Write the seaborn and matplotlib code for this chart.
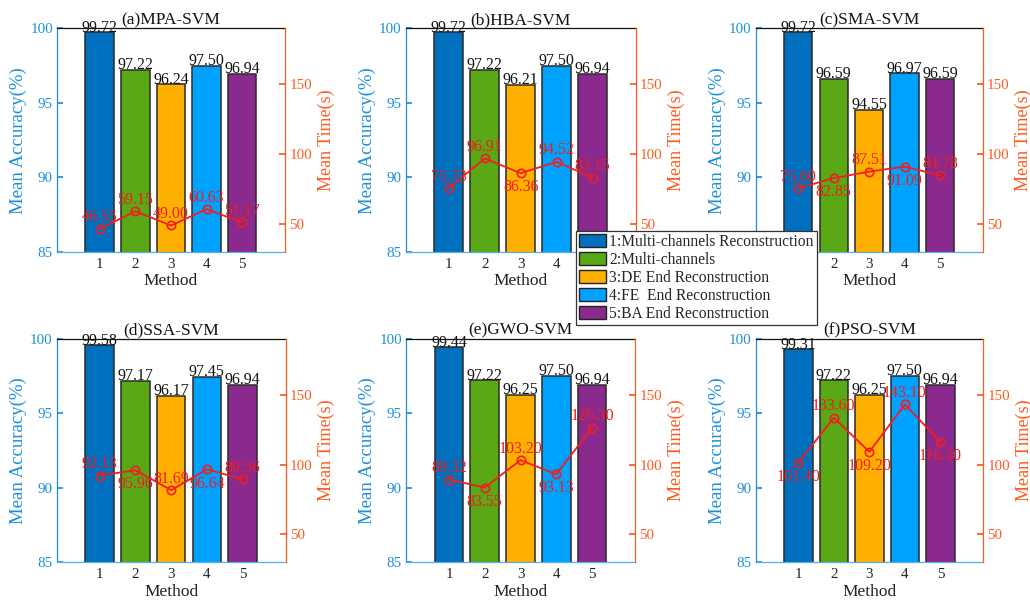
import matplotlib
matplotlib.use("Agg")
import matplotlib.pyplot as plt
from matplotlib.patches import Patch
import seaborn as sns

# ---- data -------------------------------------------------------------
methods = [1, 2, 3, 4, 5]
method_names = [
    "1:Multi-channels Reconstruction",
    "2:Multi-channels",
    "3:DE End Reconstruction",
    "4:FE  End Reconstruction",
    "5:BA End Reconstruction",
]
panel_titles = ["(a)MPA-SVM", "(b)HBA-SVM", "(c)SMA-SVM",
                "(d)SSA-SVM", "(e)GWO-SVM", "(f)PSO-SVM"]

acc_mpa = [99.72, 97.22, 96.24, 97.50, 96.94]
acc_hba = [99.72, 97.22, 96.21, 97.50, 96.94]
acc_sma = [99.72, 96.59, 94.55, 96.97, 96.59]
acc_ssa = [99.58, 97.17, 96.17, 97.45, 96.94]
acc_gwo = [99.44, 97.22, 96.25, 97.50, 96.94]
acc_pso = [99.31, 97.22, 96.25, 97.50, 96.94]

time_mpa = [46.55, 59.15, 49.00, 60.63, 51.17]
time_hba = [75.73, 96.91, 86.36, 94.52, 83.15]
time_sma = [75.60, 82.85, 87.51, 91.09, 84.78]
time_ssa = [92.13, 95.96, 81.69, 96.64, 89.56]
time_gwo = [89.32, 83.55, 103.20, 93.13, 126.30]
time_pso = [101.40, 133.60, 109.20, 143.10, 116.30]

accuracies = [acc_mpa, acc_hba, acc_sma, acc_ssa, acc_gwo, acc_pso]
times = [time_mpa, time_hba, time_sma, time_ssa, time_gwo, time_pso]

# ---- styling ------------------------------------------------------------
bar_colors = ["#0070BE", "#5AA816", "#FFB000", "#00A2FF", "#8B2A8E"]
acc_color = "#1B8FD8"
time_color = "#FF5A1E"
line_color = "#F41C1C"

# +1: time label above the marker, -1: below
label_side = [
    [1, 1, 1, 1, 1],
    [1, 1, -1, 1, 1],
    [1, -1, 1, -1, 1],
    [1, -1, 1, -1, 1],
    [1, -1, 1, -1, 1],
    [-1, 1, -1, 1, -1],
]

axes_rects = [
    [0.0553, 0.5848, 0.2214, 0.3686],
    [0.3939, 0.5848, 0.2233, 0.3686],
    [0.7337, 0.5848, 0.2204, 0.3686],
    [0.0550, 0.0736, 0.2223, 0.3680],
    [0.3942, 0.0736, 0.2223, 0.3680],
    [0.7337, 0.0736, 0.2207, 0.3680],
]

sns.set_theme(style="white")
plt.rcParams["font.family"] = ["Liberation Serif", "DejaVu Serif"]

fig = plt.figure(figsize=(10.30, 6.07), dpi=100)
palette = dict(zip(method_names, bar_colors))

for i in range(6):
    ax = fig.add_axes(axes_rects[i])
    acc = accuracies[i]
    tm = times[i]

    sns.barplot(x=methods, y=acc, hue=method_names, palette=palette,
                native_scale=True, width=0.8, saturation=1,
                edgecolor="#2A2A2A", linewidth=1.1, legend=False, ax=ax,
                zorder=2)
    ax.set_xlim(-0.2, 6.2)
    ax.set_ylim(85, 100)
    ax.set_xticks(methods)
    ax.set_xticklabels([str(m) for m in methods])
    ax.set_yticks([85, 90, 95, 100])
    ax.set_xlabel("Method", fontsize=12.5, labelpad=2, color="#222222")
    ax.set_ylabel("Mean Accuracy(%)", fontsize=13.5, color=acc_color, labelpad=2)
    ax.set_title(panel_titles[i], fontsize=12.5, pad=3, color="#111111")
    ax.tick_params(axis="y", colors=acc_color, direction="in", length=4,
                   labelsize=10.8, pad=3)
    ax.tick_params(axis="x", colors="#222222", direction="in", length=4,
                   labelsize=10.8, pad=4)
    ax.grid(False)

    for x, v in zip(methods, acc):
        ax.annotate(f"{v:.2f}", (x, v), xytext=(0, 0.5),
                    textcoords="offset points", ha="center", va="baseline",
                    fontsize=11.5, color="#111111")

    ax2 = ax.twinx()
    sns.lineplot(x=methods, y=tm, ax=ax2, color=line_color, linewidth=1.3,
                 marker="o", markersize=6, markerfacecolor="none",
                 markeredgecolor=line_color, markeredgewidth=1.2)
    ax2.set_ylim(30, 190)
    ax2.set_yticks([50, 100, 150])
    ax2.set_ylabel("Mean Time(s)", fontsize=13, color=time_color, labelpad=4)
    ax2.tick_params(axis="y", colors=time_color, direction="in", length=4,
                    labelsize=10.8, pad=3)
    ax2.grid(False)

    for x, v, s in zip(methods, tm, label_side[i]):
        if s > 0:
            ax2.annotate(f"{v:.2f}", (x, v), xytext=(0, 2.5),
                         textcoords="offset points", ha="center", va="bottom",
                         fontsize=11.5, color=line_color)
        else:
            ax2.annotate(f"{v:.2f}", (x, v), xytext=(0, -4.5),
                         textcoords="offset points", ha="center", va="top",
                         fontsize=11.5, color=line_color)

    # spines: blue left/bottom, orange right, black top
    for a in (ax, ax2):
        for sp in a.spines.values():
            sp.set_linewidth(0.9)
    ax.spines["left"].set_color(acc_color)
    ax.spines["bottom"].set_color("#5AAEE0")
    ax.spines["top"].set_color("#111111")
    ax.spines["right"].set_visible(False)
    ax2.spines["left"].set_visible(False)
    ax2.spines["bottom"].set_visible(False)
    ax2.spines["top"].set_visible(False)
    ax2.spines["right"].set_color(time_color)

handles = [Patch(facecolor=c, edgecolor="#222222", linewidth=1.0)
           for c in bar_colors]
leg = fig.legend(handles, method_names, loc="upper left",
                 bbox_to_anchor=(0.559, 0.620), frameon=True, fancybox=False,
                 framealpha=1.0, edgecolor="#333333", fontsize=11.2,
                 handlelength=1.75, handleheight=0.95, handletextpad=0.2,
                 labelspacing=0.13, borderpad=0.2, borderaxespad=0.0)
leg.get_frame().set_linewidth(0.9)

fig.savefig("out.png", dpi=100)
